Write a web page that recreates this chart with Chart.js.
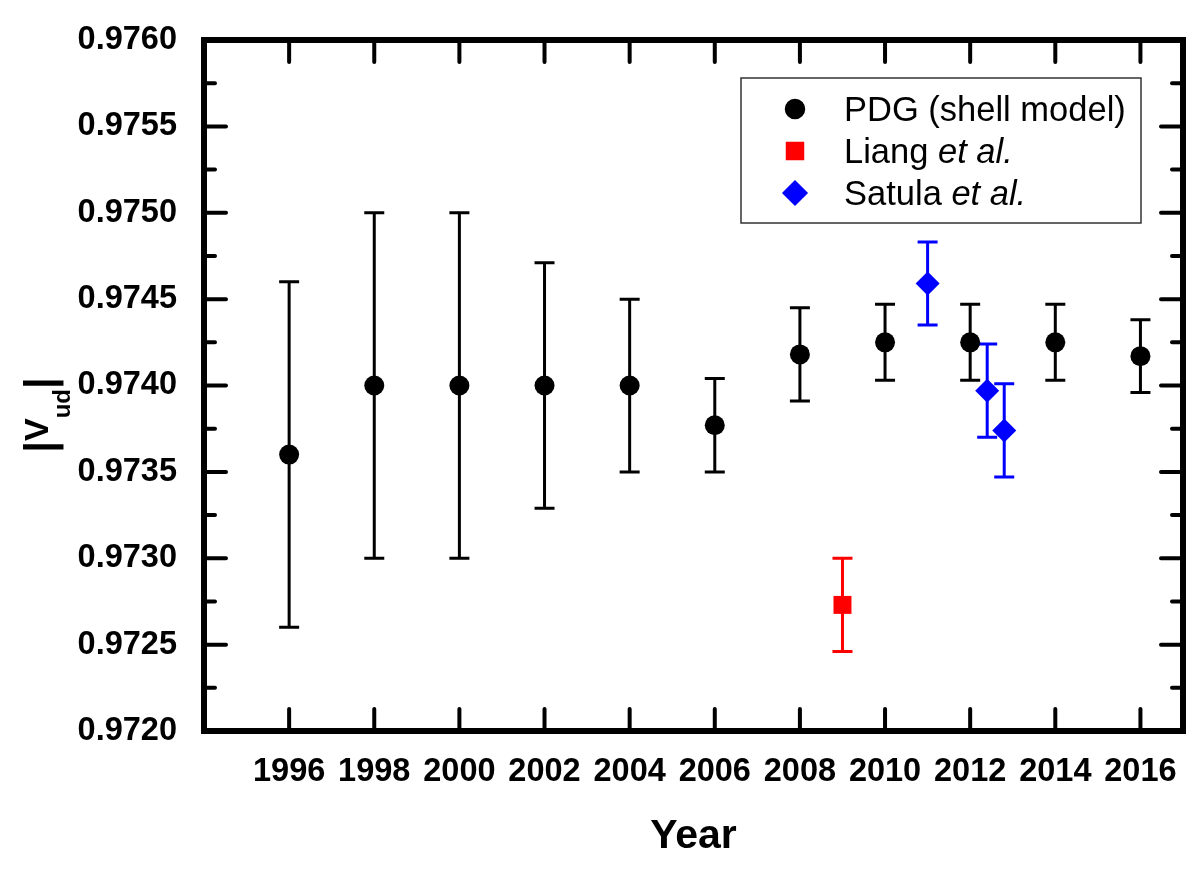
<!DOCTYPE html>
<html>
<head>
<meta charset="utf-8">
<title>|Vud| vs Year</title>
<script src="https://cdn.jsdelivr.net/npm/chart.js@4/dist/chart.umd.min.js"></script>
<style>
  html, body { margin: 0; padding: 0; background: #fff; }
  canvas { display: block; }
</style>
</head>
<body>
<canvas id="chart-vud" width="1198" height="875"></canvas>
<script>
// ---- data ----
const pdgYears  = [1996, 1998, 2000, 2002, 2004, 2006, 2008, 2010, 2012, 2014, 2016];
const pdgVud    = [0.97360, 0.97400, 0.97400, 0.97400, 0.97400, 0.97377, 0.97418, 0.97425, 0.97425, 0.97425, 0.97417];
const pdgErr    = [0.00100, 0.00100, 0.00100, 0.00071, 0.00050, 0.00027, 0.00027, 0.00022, 0.00022, 0.00022, 0.00021];

const liangYears = [2009];
const liangVud   = [0.97273];
const liangErr   = [0.00027];

const satulaYears = [2011, 2012.4, 2012.8];
const satulaVud   = [0.97459, 0.97397, 0.97374];
const satulaErr   = [0.00024, 0.00027, 0.00027];

const yearTicks = [1996, 1998, 2000, 2002, 2004, 2006, 2008, 2010, 2012, 2014, 2016];
const vudMin = 0.9720, vudMax = 0.9760, vudStep = 0.0005;

// legend text: [text, italic] runs per entry
const legendRuns = [
  [["PDG (shell model)", false]],
  [["Liang ", false], ["et al.", true]],
  [["Satula ", false], ["et al.", true]]
];

const FONT = "'Liberation Sans', Arial, Helvetica, sans-serif";
const pts = (xs, ys) => xs.map((x, i) => ({ x, y: ys[i] }));

// ---- error bars ----
const errorBars = {
  id: "errorBars",
  beforeDatasetsDraw(chart) {
    const { ctx, scales: { x, y } } = chart;
    ctx.save();
    chart.data.datasets.forEach(ds => {
      ctx.strokeStyle = ds.borderColor;
      ctx.lineWidth = 3;
      ds.data.forEach((p, i) => {
        const e = ds.errors[i];
        const px = x.getPixelForValue(p.x);
        const top = y.getPixelForValue(p.y + e);
        const bot = y.getPixelForValue(p.y - e);
        ctx.beginPath();
        ctx.moveTo(px, top); ctx.lineTo(px, bot);
        ctx.moveTo(px - 10, top); ctx.lineTo(px + 10, top);
        ctx.moveTo(px - 10, bot); ctx.lineTo(px + 10, bot);
        ctx.stroke();
      });
    });
    ctx.restore();
  }
};

// ---- frame + inward ticks on all four sides ----
const frameTicks = {
  id: "frameTicks",
  afterDatasetsDraw(chart) {
    const { ctx, chartArea: a, scales: { x, y } } = chart;
    ctx.save();
    ctx.strokeStyle = "#000";
    ctx.lineCap = "round";
    ctx.lineWidth = 4;
    ctx.beginPath();
    yearTicks.forEach(v => {
      const px = x.getPixelForValue(v);
      ctx.moveTo(px, a.bottom); ctx.lineTo(px, a.bottom - 22);
      ctx.moveTo(px, a.top);    ctx.lineTo(px, a.top + 22);
    });
    for (let v = vudMin; v <= vudMax + 1e-9; v += vudStep / 2) {
      const major = Math.abs(Math.round(v / vudStep) * vudStep - v) < 1e-9;
      const len = major ? 22 : 11;
      const py = y.getPixelForValue(v);
      ctx.moveTo(a.left, py);  ctx.lineTo(a.left + len, py);
      ctx.moveTo(a.right, py); ctx.lineTo(a.right - len, py);
    }
    ctx.stroke();
    ctx.lineCap = "square";
    ctx.lineWidth = 6;
    ctx.strokeRect(a.left, a.top, a.right - a.left, a.bottom - a.top);
    ctx.restore();
  }
};

// ---- legend (inside plot, with italic "et al.") ----
const insetLegend = {
  id: "insetLegend",
  afterDraw(chart) {
    const { ctx } = chart;
    const box = { x: 741, y: 78, w: 400, h: 145 };
    ctx.save();
    ctx.fillStyle = "#fff";
    ctx.fillRect(box.x, box.y, box.w, box.h);
    ctx.strokeStyle = "#333";
    ctx.lineWidth = 1.5;
    ctx.strokeRect(box.x, box.y, box.w, box.h);
    chart.data.datasets.forEach((ds, i) => {
      const cy = box.y + 31 + i * 42;
      ctx.fillStyle = ds.backgroundColor;
      ctx.strokeStyle = ds.borderColor;
      Chart.helpers.drawPoint(ctx, {
        pointStyle: ds.pointStyle,
        radius: ds.legendRadius,
        borderWidth: 1,
        rotation: 0
      }, box.x + 54, cy);
      let tx = box.x + 103;
      ctx.fillStyle = "#000";
      ctx.textBaseline = "alphabetic";
      legendRuns[i].forEach(([t, it]) => {
        ctx.font = `${it ? "italic " : ""}34.5px ${FONT}`;
        ctx.fillText(t, tx, cy + 12);
        tx += ctx.measureText(t).width;
      });
    });
    ctx.restore();
  }
};

// ---- y title |V_ud| (rotated, with subscript) ----
const yTitle = {
  id: "yTitle",
  afterDraw(chart) {
    const { ctx } = chart;
    const runs = [
      { t: "|",  font: `bold 42px ${FONT}`, v: 54 },
      { t: "V",  font: `bold 34px ${FONT}`, v: 48 },
      { t: "ud", font: `bold 24px ${FONT}`, v: 70 },
      { t: "|",  font: `bold 42px ${FONT}`, v: 54 }
    ];
    ctx.save();
    let total = 0;
    runs.forEach(r => { ctx.font = r.font; r.w = ctx.measureText(r.t).width; total += r.w; });
    ctx.translate(0, 415);
    ctx.rotate(-Math.PI / 2);
    ctx.fillStyle = "#000";
    ctx.textBaseline = "alphabetic";
    let u = -total / 2;
    runs.forEach(r => {
      ctx.font = r.font;
      ctx.fillText(r.t, u, r.v);
      u += r.w;
    });
    ctx.restore();
  }
};

// ---- chart ----
const ctx = document.getElementById("chart-vud").getContext("2d");
const chart = new Chart(ctx, {
  type: "scatter",
  data: {
    datasets: [
      {
        label: "PDG (shell model)",
        data: pts(pdgYears, pdgVud), errors: pdgErr,
        pointStyle: "circle", pointRadius: 10, legendRadius: 9.5,
        backgroundColor: "#000", borderColor: "#000", pointBorderWidth: 0
      },
      {
        label: "Liang et al.",
        data: pts(liangYears, liangVud), errors: liangErr,
        pointStyle: "rect", pointRadius: 12.7, legendRadius: 12,
        backgroundColor: "#ff0000", borderColor: "#ff0000", pointBorderWidth: 0
      },
      {
        label: "Satula et al.",
        data: pts(satulaYears, satulaVud), errors: satulaErr,
        pointStyle: "rectRot", pointRadius: 12, legendRadius: 12,
        backgroundColor: "#0000ff", borderColor: "#0000ff", pointBorderWidth: 0
      }
    ]
  },
  options: {
    responsive: false,
    animation: false,
    layout: { padding: { top: 40, right: 15, left: 0, bottom: 0 } },
    plugins: { legend: { display: false }, tooltip: { enabled: false } },
    scales: {
      x: {
        type: "linear", min: 1994, max: 2017,
        grid: { display: false, drawTicks: false },
        border: { display: false },
        afterBuildTicks: s => { s.ticks = yearTicks.map(v => ({ value: v })); },
        afterFit: s => { s.height = 144; s.paddingLeft = 0; s.paddingRight = 0; },
        ticks: {
          autoSkip: false, maxRotation: 0, padding: 22,
          color: "#000", font: { family: FONT, size: 32.5, weight: "bold" },
          callback: v => String(v)
        },
        title: {
          display: true, text: "Year", color: "#000",
          font: { family: FONT, size: 41, weight: "bold" },
          padding: { top: 0, bottom: 14 }
        }
      },
      y: {
        min: vudMin, max: vudMax,
        grid: { display: false, drawTicks: false },
        border: { display: false },
        afterFit: s => { s.width = 204; s.paddingTop = 0; s.paddingBottom = 0; },
        ticks: {
          stepSize: vudStep, padding: 27,
          color: "#000", font: { family: FONT, size: 32.5, weight: "bold" },
          callback: v => Number(v).toFixed(4)
        }
      }
    }
  },
  plugins: [errorBars, frameTicks, insetLegend, yTitle]
});
</script>
</body>
</html>
